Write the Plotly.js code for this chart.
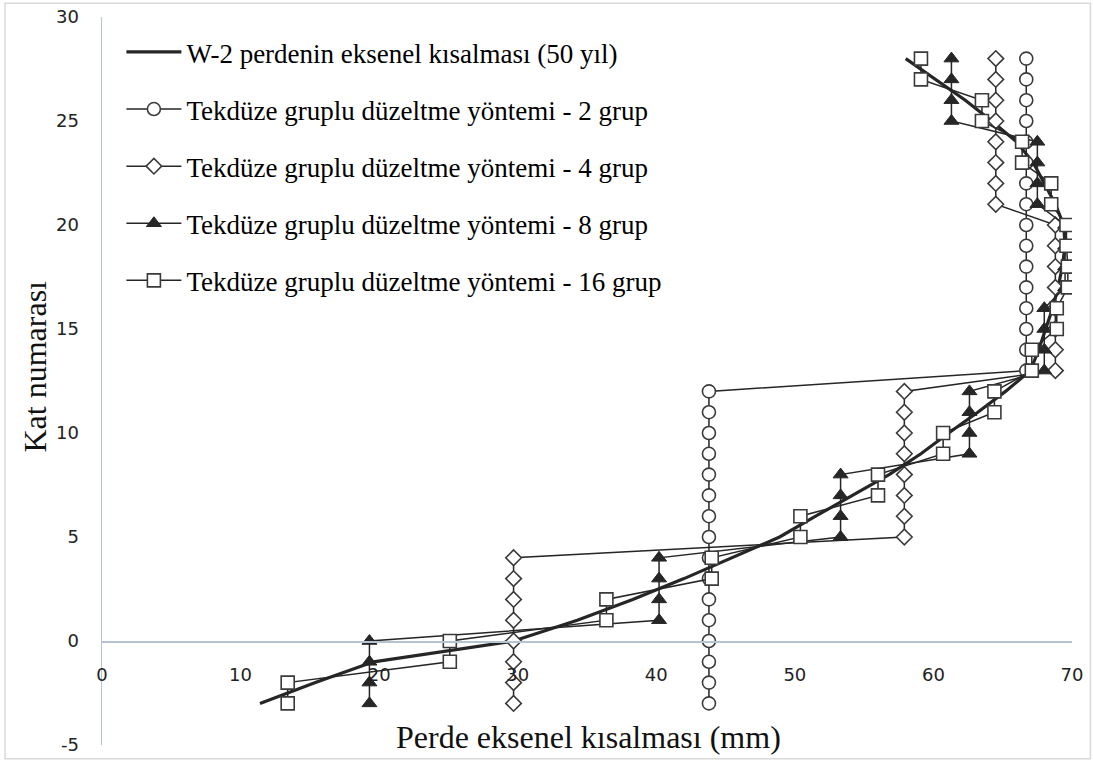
<!DOCTYPE html>
<html>
<head>
<meta charset="utf-8">
<script src="https://cdn.plot.ly/plotly-3.0.1.min.js"></script>
<style>html,body{margin:0;padding:0;background:#fff;}#chart{width:1093px;height:762px;}</style>
</head>
<body>
<div id="chart"></div>
<script>
// Floor numbers (Kat numarası)
const floors = [-3,-2,-1,0,1,2,3,4,5,6,7,8,9,10,11,12,13,14,15,16,17,18,19,20,21,22,23,24,25,26,27,28];
// W-2 wall axial shortening (50 years), mm
const w2 = [11.4,15.4,19.6,29.7,34.3,38.3,42.0,45.5,48.9,51.5,54.1,56.8,59.1,61.1,63.2,65.2,67.0,67.6,68.1,68.6,69.0,69.3,69.5,69.4,68.8,68.0,67.2,66.0,64.2,62.3,60.1,58.0];
// Uniform grouped correction – 2 groups
const g2 = [43.8,43.8,43.8,43.8,43.8,43.8,43.8,43.8,43.8,43.8,43.8,43.8,43.8,43.8,43.8,43.8,66.7,66.7,66.7,66.7,66.7,66.7,66.7,66.7,66.7,66.7,66.7,66.7,66.7,66.7,66.7,66.7];
// 4 groups
const g4 = [29.7,29.7,29.7,29.7,29.7,29.7,29.7,29.7,57.9,57.9,57.9,57.9,57.9,57.9,57.9,57.9,68.8,68.8,68.8,68.8,68.8,68.8,68.8,68.8,64.5,64.5,64.5,64.5,64.5,64.5,64.5,64.5];
// 8 groups
const g8 = [19.3,19.3,19.3,19.3,40.2,40.2,40.2,40.2,53.3,53.3,53.3,53.3,62.6,62.6,62.6,62.6,68.0,68.0,68.0,68.0,69.5,69.5,69.5,69.5,67.5,67.5,67.5,67.5,61.3,61.3,61.3,61.3];
// 16 groups
const g16 = [13.4,13.4,25.1,25.1,36.4,36.4,44.0,44.0,50.4,50.4,56.0,56.0,60.7,60.7,64.4,64.4,67.1,67.1,68.9,68.9,69.7,69.7,69.6,69.6,68.5,68.5,66.4,66.4,63.5,63.5,59.1,59.1];

const names = [
  "W-2 perdenin eksenel kısalması (50 yıl)",
  "Tekdüze gruplu düzeltme yöntemi - 2 grup",
  "Tekdüze gruplu düzeltme yöntemi - 4 grup",
  "Tekdüze gruplu düzeltme yöntemi - 8 grup",
  "Tekdüze gruplu düzeltme yöntemi - 16 grup"
];
const xTicks = [0,10,20,30,40,50,60,70];
const yTicks = [-5,0,5,10,15,20,25,30];
const xRange = [0,70];
const yRange = [-5,30];

const dark = "#262626";
const mline = {color: "#3a3a3a", width: 1.6};

const traces = [
  {x: w2, y: floors, name: names[0], mode: "lines", line: {color: dark, width: 3.2}, legendgroup: "a"},
  {x: g2, y: floors, name: names[1], mode: "lines+markers", line: {color: dark, width: 1.5},
   marker: {symbol: "circle", size: 13, color: "#ffffff", line: mline}, legendgroup: "b"},
  {x: g4, y: floors, name: names[2], mode: "lines+markers", line: {color: dark, width: 1.5},
   marker: {symbol: "diamond", size: 12, color: "#ffffff", line: mline}, legendgroup: "c"},
  {x: g8, y: floors, name: names[3], mode: "lines+markers", line: {color: dark, width: 1.5},
   marker: {symbol: "triangle-up", size: 13, color: dark, line: {color: dark, width: 1}}, legendgroup: "d"},
  {x: g16, y: floors, name: names[4], mode: "lines+markers", line: {color: dark, width: 1.5},
   marker: {symbol: "square", size: 13, color: "#ffffff", line: mline}, legendgroup: "e"}
];

const axisColor = "#b7c2d3";
const layout = {
  width: 1093, height: 762,
  margin: {l: 102, r: 21, t: 17, b: 17},
  paper_bgcolor: "#ffffff", plot_bgcolor: "#ffffff",
  showlegend: true,
  legend: {
    x: 0.02, y: 0.985, xanchor: "left", yanchor: "top",
    font: {family: "Liberation Serif, Times New Roman, serif", size: 27, color: "#000"},
    bgcolor: "rgba(255,255,255,0)", itemwidth: 55, tracegroupgap: 19,
    traceorder: "grouped"
  },
  xaxis: {
    range: xRange, tickvals: xTicks, ticktext: xTicks.map(String),
    anchor: "free", position: (0 - yRange[0]) / (yRange[1] - yRange[0]),
    showline: true, linecolor: axisColor, linewidth: 1.5,
    showgrid: false, zeroline: false,
    ticks: "outside", ticklen: 17, tickcolor: "rgba(0,0,0,0)",
    tickfont: {family: "DejaVu Sans, Verdana, sans-serif", size: 18, color: "#222"}
  },
  yaxis: {
    range: yRange, tickvals: yTicks, ticktext: yTicks.map(String),
    showline: true, linecolor: axisColor, linewidth: 1.5,
    showgrid: false, zeroline: false,
    ticks: "outside", ticklen: 18, tickcolor: "rgba(0,0,0,0)",
    tickfont: {family: "DejaVu Sans, Verdana, sans-serif", size: 18, color: "#222"}
  },
  annotations: [
    {text: "Perde eksenel kısalması (mm)", xref: "paper", yref: "paper", x: 0.502, y: 0.011,
     xanchor: "center", yanchor: "middle", showarrow: false,
     font: {family: "Liberation Serif, Times New Roman, serif", size: 32, color: "#111"}},
    {text: "Kat numarası", xref: "paper", yref: "paper", x: -0.069, y: 0.52, textangle: -90,
     xanchor: "center", yanchor: "middle", showarrow: false,
     font: {family: "Liberation Serif, Times New Roman, serif", size: 32, color: "#111"}}
  ],
  shapes: [
    {type: "rect", xref: "paper", yref: "paper", x0: -0.1, x1: 1.019, y0: -0.019, y1: 1.019,
     line: {color: "#d9d9d9", width: 1.5}, fillcolor: "rgba(0,0,0,0)", layer: "below"}
  ]
};

Plotly.newPlot("chart", traces, layout, {displayModeBar: false, staticPlot: true});
</script>
</body>
</html>
